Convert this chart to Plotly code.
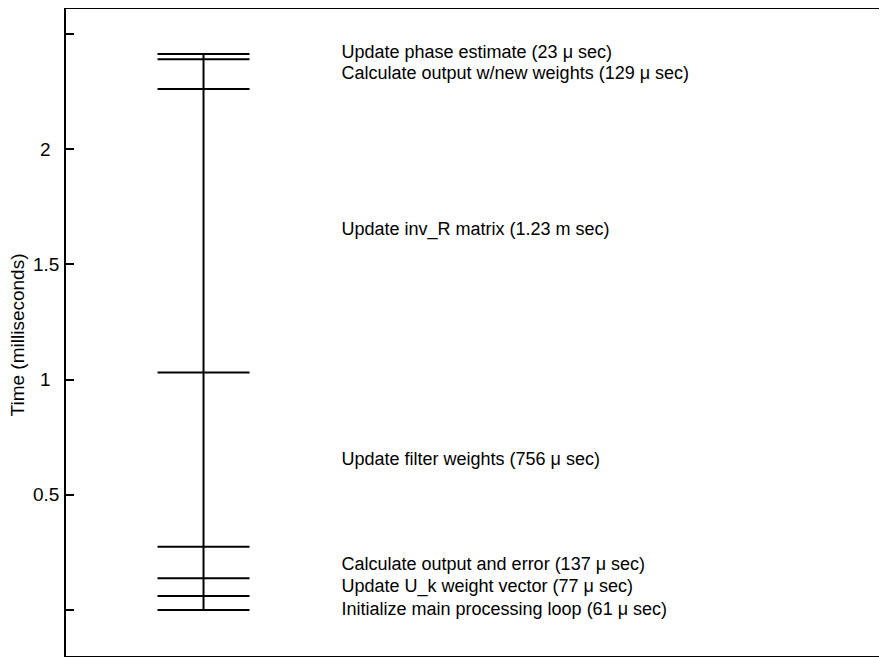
import numpy as np
import plotly.graph_objects as go

# Tasks from the start of the loop (bottom) to the end (top), durations in microseconds
tasks = [
    "Initialize main processing loop (61 μ sec)",
    "Update U_k weight vector (77 μ sec)",
    "Calculate output and error (137 μ sec)",
    "Update filter weights (756 μ sec)",
    "Update inv_R matrix (1.23 m sec)",
    "Calculate output w/new weights (129 μ sec)",
    "Update phase estimate (23 μ sec)",
]
durations_us = [61, 77, 137, 756, 1230, 129, 23]
label_nudge_ms = [-0.034, -0.003, -0.012, -0.005, 0.003, -0.002, 0.014]

tick_vals = [0, 0.5, 1, 1.5, 2, 2.5]
tick_text = ["", "0.5", "1", "1.5", "2", ""]
y_title = "Time (milliseconds)"

boundaries = np.concatenate([[0.0], np.cumsum(durations_us) / 1000.0])
mids = (boundaries[:-1] + boundaries[1:]) / 2
label_y = mids + np.array(label_nudge_ms)

FONT = "Liberation Sans, Arial, Helvetica, sans-serif"

fig = go.Figure()

# vertical time line
fig.add_trace(go.Scatter(
    x=[1, 1], y=[boundaries[0], boundaries[-1]], mode="lines",
    line=dict(color="black", width=2), hoverinfo="skip", showlegend=False))

# horizontal boundary lines
xs, ys = [], []
for b in boundaries:
    xs += [0.5, 1.5, None]
    ys += [b, b, None]
fig.add_trace(go.Scatter(
    x=xs, y=ys, mode="lines", line=dict(color="black", width=2),
    hoverinfo="skip", showlegend=False))

# labels
fig.add_trace(go.Scatter(
    x=[2.5] * len(tasks), y=label_y, mode="text", text=tasks,
    textposition="middle right",
    textfont=dict(family=FONT, size=18, color="black"),
    hoverinfo="skip", showlegend=False))

# invisible trace for the right-hand tick axis
fig.add_trace(go.Scatter(x=[None], y=[None], yaxis="y2", showlegend=False))

# tick labels (centred, as in the original) and axis title
for v, t in zip(tick_vals, tick_text):
    if t:
        fig.add_annotation(x=-0.0244, xref="paper", y=v, yref="y",
                           text=t, showarrow=False, xanchor="center",
                           yanchor="middle",
                           font=dict(family=FONT, size=19, color="black"))
fig.add_annotation(x=-0.0597, xref="paper", y=0.497, yref="paper",
                   text=y_title, textangle=-90, showarrow=False,
                   xanchor="center", yanchor="middle",
                   font=dict(family=FONT, size=19, color="black"))

yr = [-0.1997, 2.6085]
fig.update_layout(
    width=879, height=649,
    margin=dict(l=58, r=0, t=1, b=1, autoexpand=False),
    paper_bgcolor="white", plot_bgcolor="white",
    font=dict(family=FONT, size=18, color="black"),
    xaxis=dict(range=[-0.495, 8.43], showgrid=False, zeroline=False,
               showticklabels=False, ticks="", showline=True, mirror=True,
               linecolor="black", linewidth=2),
    yaxis=dict(range=yr, showgrid=False, zeroline=False,
               tickvals=tick_vals, showticklabels=False,
               ticks="inside", ticklen=8, tickwidth=2, tickcolor="black",
               showline=True, linecolor="black", linewidth=2),
    yaxis2=dict(range=yr, overlaying="y", side="right", showgrid=False,
                zeroline=False, tickvals=tick_vals, showticklabels=False,
                ticks="inside", ticklen=3, tickwidth=2, tickcolor="black",
                showline=False),
)

fig.write_html("out.html")
